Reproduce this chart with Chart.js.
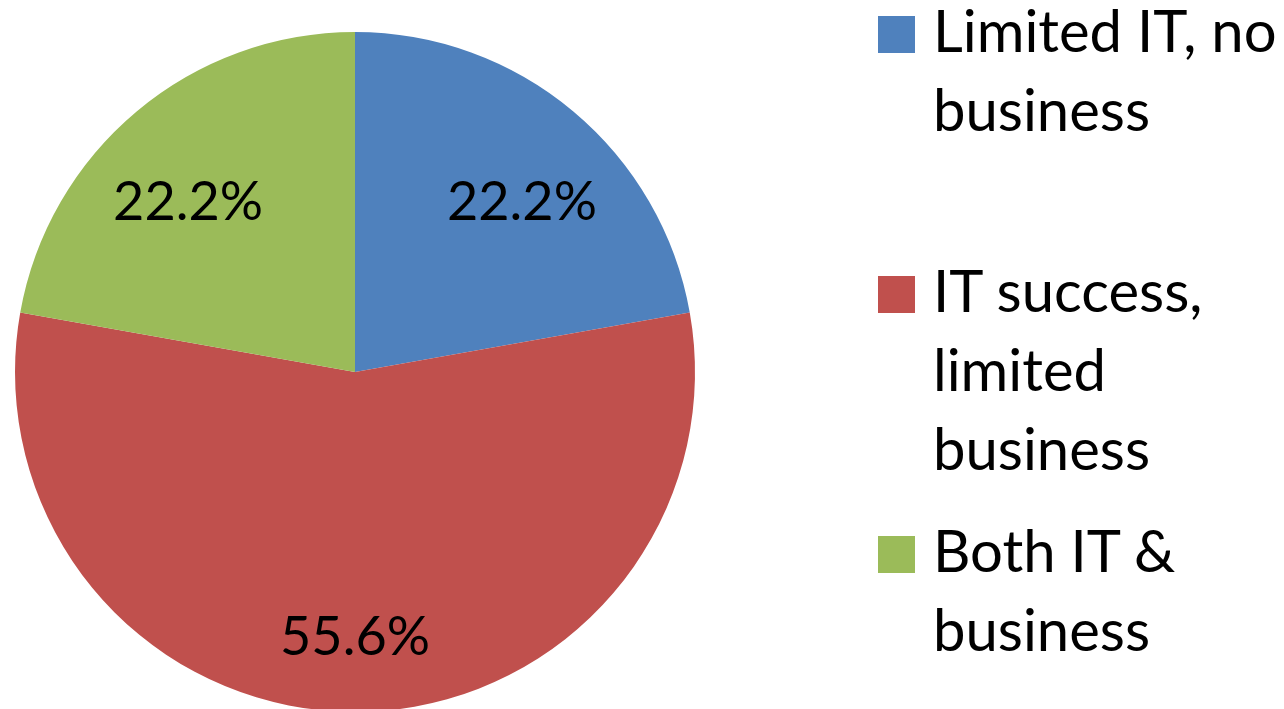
<!DOCTYPE html>
<html>
<head>
<meta charset="utf-8">
<script src="https://cdn.jsdelivr.net/npm/chart.js@4"></script>
<style>
  html, body { margin: 0; padding: 0; background: #fff; overflow: hidden; }
  #wrap { position: relative; width: 1284px; height: 709px; }
  #pie-chart { position: absolute; left: 0; top: 0; }
  .leg-item { position: absolute; left: 878px; font-family: Lato, "Liberation Sans", sans-serif; font-size: 58px; line-height: 79px; color: #000; }
  .leg-box { position: absolute; left: 0; width: 37px; height: 37px; }
  .leg-text { position: absolute; left: 55px; white-space: nowrap; }
</style>
</head>
<body>
<div id="wrap">
  <canvas id="pie-chart" width="1284" height="715"></canvas>
  <div id="legend"></div>
</div>
<script>
var categories = [
    ["Limited IT, no", "business"],
    ["IT success,", "limited", "business"],
    ["Both IT &", "business"]
];
var values = [22.2, 55.6, 22.2];
var colors = ["#4F81BD", "#C0504D", "#9BBB59"];

// legend entry tops (baseline of first line minus its offset in the line box)
var legendTops = [-10, 250, 510];

var pctLabels = {
    id: 'pctLabels',
    afterDatasetsDraw: (chart) => {
        var ctx = chart.ctx;
        var meta = chart.getDatasetMeta(0);
        ctx.save();
        ctx.font = '54px Lato, "Liberation Sans", sans-serif';
        ctx.fillStyle = '#000';
        ctx.textAlign = 'center';
        ctx.textBaseline = 'middle';
        meta.data.forEach(function(arc, i) {
            var p = arc.getProps(['x', 'y', 'startAngle', 'endAngle', 'outerRadius']);
            var mid = (p.startAngle + p.endAngle) / 2;
            var f = 0.78;
            if (values[i] < 50) {
                // best-fit style: nudge small slice labels away from the top seam
                f = 0.70;
                mid += Math.cos(mid) > 0 ? 0.08 : -0.08;
            }
            var x = p.x + Math.cos(mid) * p.outerRadius * f;
            var y = p.y + Math.sin(mid) * p.outerRadius * f;
            ctx.fillText(values[i].toFixed(1) + '%', x, y);
        });
        ctx.restore();
    }
};

drawPie = () => {
    new Chart(document.getElementById("pie-chart"), {
        type: 'pie',
        data: {
            labels: categories,
            datasets: [{
                data: values,
                backgroundColor: colors,
                borderWidth: 0
            }]
        },
        options: {
            responsive: false,
            animation: false,
            layout: { padding: { left: 15, right: 589, top: 32, bottom: 3 } },
            plugins: {
                legend: { display: false },
                tooltip: { enabled: false }
            }
        },
        plugins: [pctLabels]
    });
}

drawLegend = () => {
    var html = '';
    categories.forEach(function(lines, i) {
        html += '<div class="leg-item" style="top:' + legendTops[i] + 'px">'
             + '<div class="leg-box" style="top:26px;background:' + colors[i] + '"></div>'
             + '<div class="leg-text">' + lines.join('<br>').replace(/&(?!lt|gt|amp)/g, '&amp;') + '</div>'
             + '</div>';
    });
    document.getElementById("legend").innerHTML = html;
}

(function (){
    drawPie();
    drawLegend();
}());
</script>
</body>
</html>
